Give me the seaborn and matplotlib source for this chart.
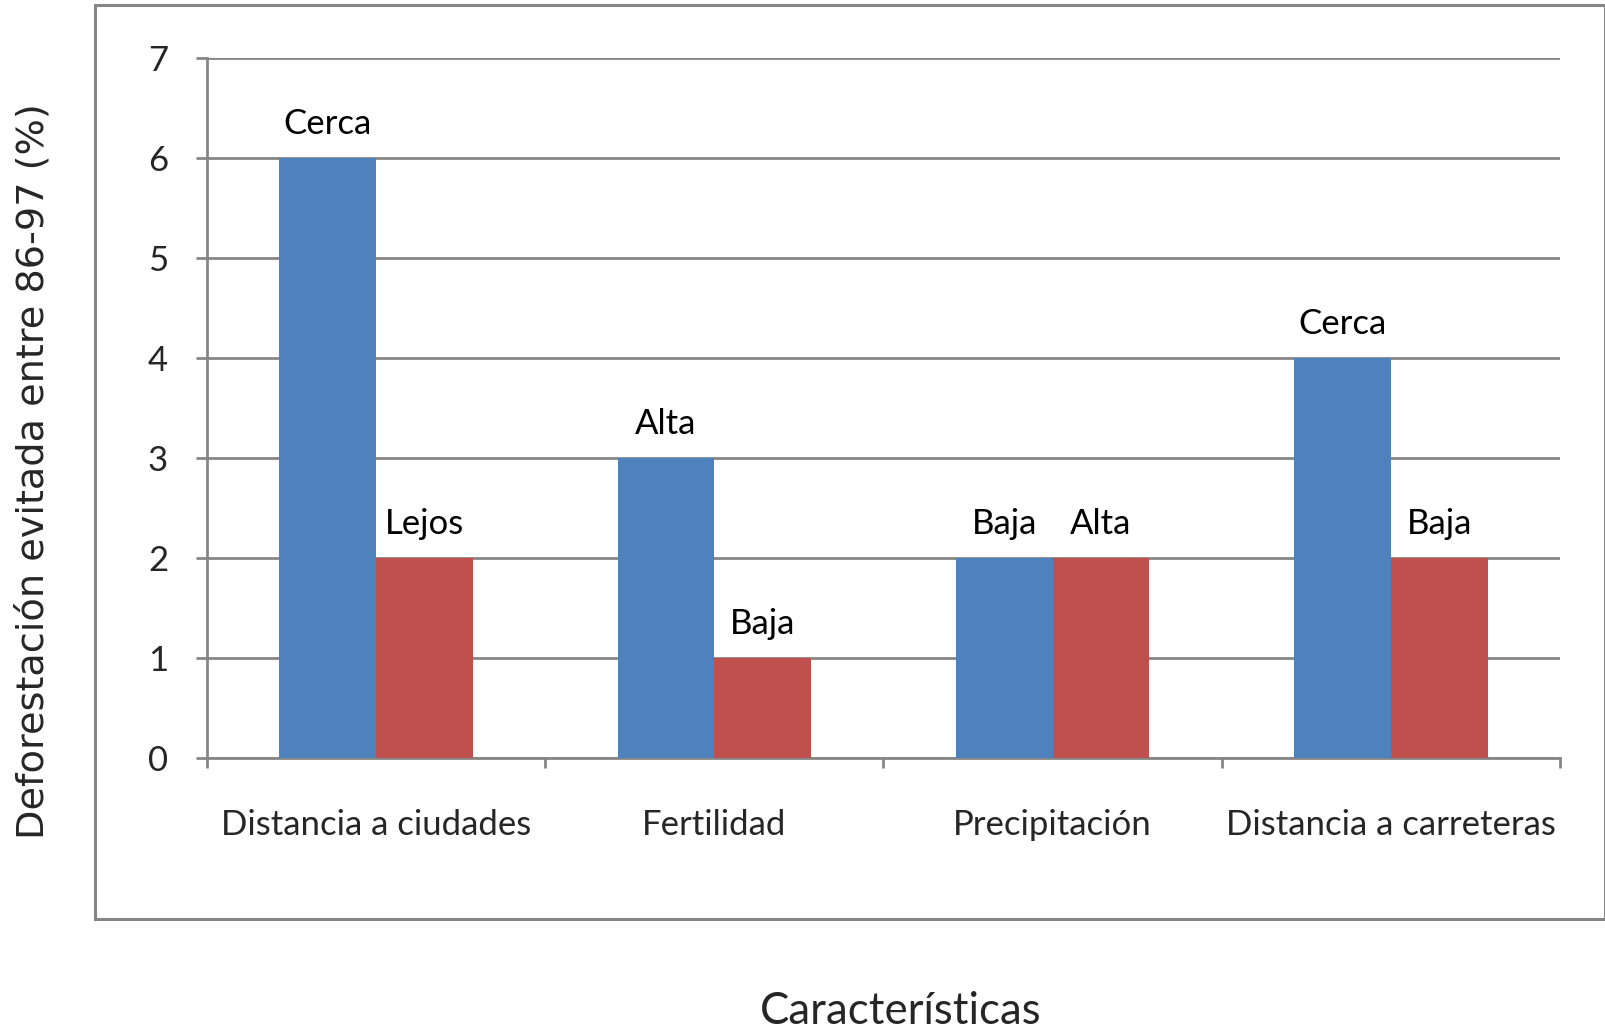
import numpy as np
import pandas as pd
import matplotlib
matplotlib.use("Agg")
import matplotlib.pyplot as plt
from matplotlib.patches import Rectangle
import seaborn as sns

# Data
categories = ["Distancia a ciudades", "Fertilidad", "Precipitación", "Distancia a carreteras"]
serie_1 = [6, 3, 2, 4]
serie_2 = [2, 1, 2, 2]
etiquetas_1 = ["Cerca", "Alta", "Baja", "Cerca"]
etiquetas_2 = ["Lejos", "Baja", "Alta", "Baja"]
y_ticks = [0, 1, 2, 3, 4, 5, 6, 7]

df = pd.DataFrame({
    "categoria": categories * 2,
    "serie": ["s1"] * len(categories) + ["s2"] * len(categories),
    "valor": serie_1 + serie_2,
})

sns.set_theme(style="white")
plt.rcParams["font.family"] = ["Lato", "DejaVu Sans"]

GRID = "#868686"
fig = plt.figure(figsize=(16.06, 10.29), dpi=100)
ax = fig.add_axes([207 / 1606, 1 - 758 / 1029, (1560 - 207) / 1606, (758 - 58) / 1029])

sns.barplot(data=df, x="categoria", y="valor", hue="serie", order=categories,
            palette=["#4F81BD", "#C0504D"], width=0.572, gap=0, saturation=1,
            edgecolor="none", linewidth=0, legend=False, ax=ax, zorder=3)

for cont, labs in zip(ax.containers, [etiquetas_1, etiquetas_2]):
    ax.bar_label(cont, labels=labs, padding=13, fontsize=25, color="black")

ax.set_ylim(0, 7)
ax.set_xlim(-0.5, len(categories) - 0.5)
ax.set_yticks(y_ticks)
ax.yaxis.grid(True, color=GRID, linewidth=2)
ax.set_axisbelow(True)

ax.tick_params(axis="y", length=8, width=2, color=GRID, pad=20, labelsize=25, left=True)
ax.tick_params(axis="x", which="major", length=0, pad=37, labelsize=25)
ax.set_xticks(np.arange(-0.5, len(categories), 1.0), minor=True)
ax.tick_params(axis="x", which="minor", length=7, width=2, color=GRID, bottom=True)

for side in ["top", "right"]:
    ax.spines[side].set_visible(False)
for side in ["left", "bottom"]:
    ax.spines[side].set_color(GRID)
    ax.spines[side].set_linewidth(2)

ax.set_xlabel("")
ax.set_ylabel("")

fig.text(0.021, 1 - 471 / 1029, "Deforestación evitada entre 86-97 (%)",
         rotation=90, va="center", ha="center", fontsize=27.5, family="DejaVu Sans")
fig.text(901 / 1606, 1 - 1011 / 1029, "Características", ha="center", va="center", fontsize=31.5)

# chart frame
fig.patches.append(Rectangle((95 / 1606, 1 - 919 / 1029), (1605 - 95) / 1606, (919 - 5) / 1029,
                             transform=fig.transFigure, fill=False, edgecolor=GRID,
                             linewidth=2.2, zorder=0))

fig.savefig("out.png", dpi=100)
